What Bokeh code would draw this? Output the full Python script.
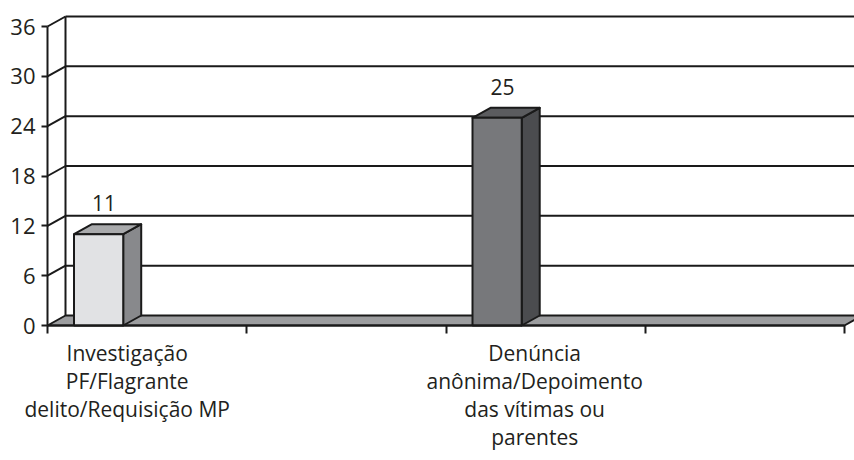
from bokeh.plotting import figure
from bokeh.models import Range1d, FixedTicker, ColumnDataSource
from bokeh.core.properties import value
from bokeh.embed import file_html
from bokeh.resources import INLINE

# ---- data ----
categories = [
    "Investigação\nPF/Flagrante\ndelito/Requisição MP",
    "",
    "Denúncia\nanônima/Depoimento\ndas vítimas ou\nparentes",
    "",
]
values = [11, None, 25, None]
y_ticks = [0, 6, 12, 18, 24, 30, 36]
front_colors = ["#e1e2e4", None, "#77787b", None]
top_colors = ["#a9aaac", None, "#5b5c5f", None]
side_colors = ["#88898c", None, "#4b4c4f", None]

# ---- layout constants ----
W, H = 854, 460
ORIGIN_X, ORIGIN_Y = 47, 325          # pixel position of (0, 0)
PX_PER_CAT = 199.25
PX_PER_VAL = 299 / 36
X_START = -ORIGIN_X / PX_PER_CAT
X_END = (W - ORIGIN_X) / PX_PER_CAT
Y_TOP = ORIGIN_Y / PX_PER_VAL
Y_BOT = -(H - ORIGIN_Y) / PX_PER_VAL
DX = 18 / PX_PER_CAT      # depth offset in category units
DY = 10 / PX_PER_VAL      # depth offset in value units
BAR_OFF, BAR_W = 0.133, 0.247
LABEL_SHIFT = [0.40, None, 0.445, None]
LINE = "#1a1a1a"
TXT = "#231f20"
FONT = "Open Sans"
n_cat = len(categories)

p = figure(width=W, height=H, output_backend="svg", toolbar_location=None,
           x_range=Range1d(X_START, X_END), y_range=Range1d(Y_BOT, Y_TOP),
           min_border_left=0, min_border_right=0, min_border_top=0,
           min_border_bottom=0)
p.outline_line_color = None
p.xgrid.visible = False
p.ygrid.visible = False
p.background_fill_color = "white"
p.border_fill_color = "white"

# ---- walls ----
p.segment(x0=[DX], y0=[DY], x1=[DX], y1=[y_ticks[-1] + DY], line_color=LINE, line_width=2)
wall_t = [t for t in y_ticks if t > 0]
p.segment(x0=[0] * len(wall_t), y0=wall_t, x1=[DX] * len(wall_t), y1=[t + DY for t in wall_t],
          line_color=LINE, line_width=2)
p.segment(x0=[DX] * len(wall_t), y0=[t + DY for t in wall_t],
          x1=[X_END + 1] * len(wall_t), y1=[t + DY for t in wall_t],
          line_color=LINE, line_width=2)

# ---- floor ----
p.patch(x=[0, n_cat, n_cat + DX, DX], y=[0, 0, DY, DY],
        fill_color="#9c9d9f", line_color=LINE, line_width=2)

# ---- bars ----
lab_x, lab_y, lab_t = [], [], []
for i, v in enumerate(values):
    if v is None:
        continue
    x0 = i + BAR_OFF
    x1 = x0 + BAR_W
    p.patch(x=[x1, x1 + DX, x1 + DX, x1], y=[0, DY, v + DY, v],
            fill_color=side_colors[i], line_color=LINE, line_width=2, line_join="round")
    p.patch(x=[x0, x1, x1 + DX, x0 + DX], y=[v, v, v + DY, v + DY],
            fill_color=top_colors[i], line_color=LINE, line_width=2, line_join="round")
    p.quad(left=[x0], right=[x1], bottom=[0], top=[v],
           fill_color=front_colors[i], line_color=LINE, line_width=2)
    lab_x.append((x0 + x1) / 2 + 0.3 * DX)
    lab_y.append(v + DY)
    lab_t.append(str(v))

src = ColumnDataSource(dict(x=lab_x, y=lab_y, t=lab_t))
p.text(x="x", y="y", text="t", source=src, text_align="center",
       text_baseline="alphabetic", y_offset=-21, text_font=value(FONT),
       text_font_size="21px", text_color=TXT)

# ---- y axis (drawn at x = 0) ----
ya = p.yaxis[0]
ya.fixed_location = 0
ya.ticker = FixedTicker(ticks=y_ticks)
ya.bounds = (0, y_ticks[-1])
ya.axis_line_color = LINE
ya.axis_line_width = 2
ya.major_tick_line_color = LINE
ya.major_tick_line_width = 2
ya.major_tick_out = 6
ya.major_tick_in = 0
ya.minor_tick_line_color = None
ya.major_label_standoff = 6
ya.major_label_text_font = FONT
ya.major_label_text_font_size = "22px"
ya.major_label_text_color = TXT

# ---- category axis (drawn at y = 0) ----
label_pos = [i + s for i, s in enumerate(LABEL_SHIFT) if s is not None]
label_txt = [categories[i] for i, s in enumerate(LABEL_SHIFT) if s is not None]
xa = p.xaxis[0]
xa.fixed_location = 0
xa.ticker = FixedTicker(ticks=label_pos, minor_ticks=list(range(n_cat + 1)))
xa.bounds = (0, n_cat)
xa.axis_line_color = LINE
xa.axis_line_width = 2
xa.major_tick_line_color = None
xa.major_tick_out = 0
xa.major_tick_in = 0
xa.minor_tick_line_color = LINE
xa.minor_tick_line_width = 2
xa.minor_tick_out = 8
xa.minor_tick_in = 0
xa.major_label_overrides = dict(zip(label_pos, label_txt))
xa.major_label_standoff = 5
xa.major_label_text_font = FONT
xa.major_label_text_font_size = "21px"
xa.major_label_text_line_height = 1.0
xa.major_label_text_color = TXT
xa.major_label_text_align = "center"

open("out.html", "w").write(file_html(p, INLINE))
